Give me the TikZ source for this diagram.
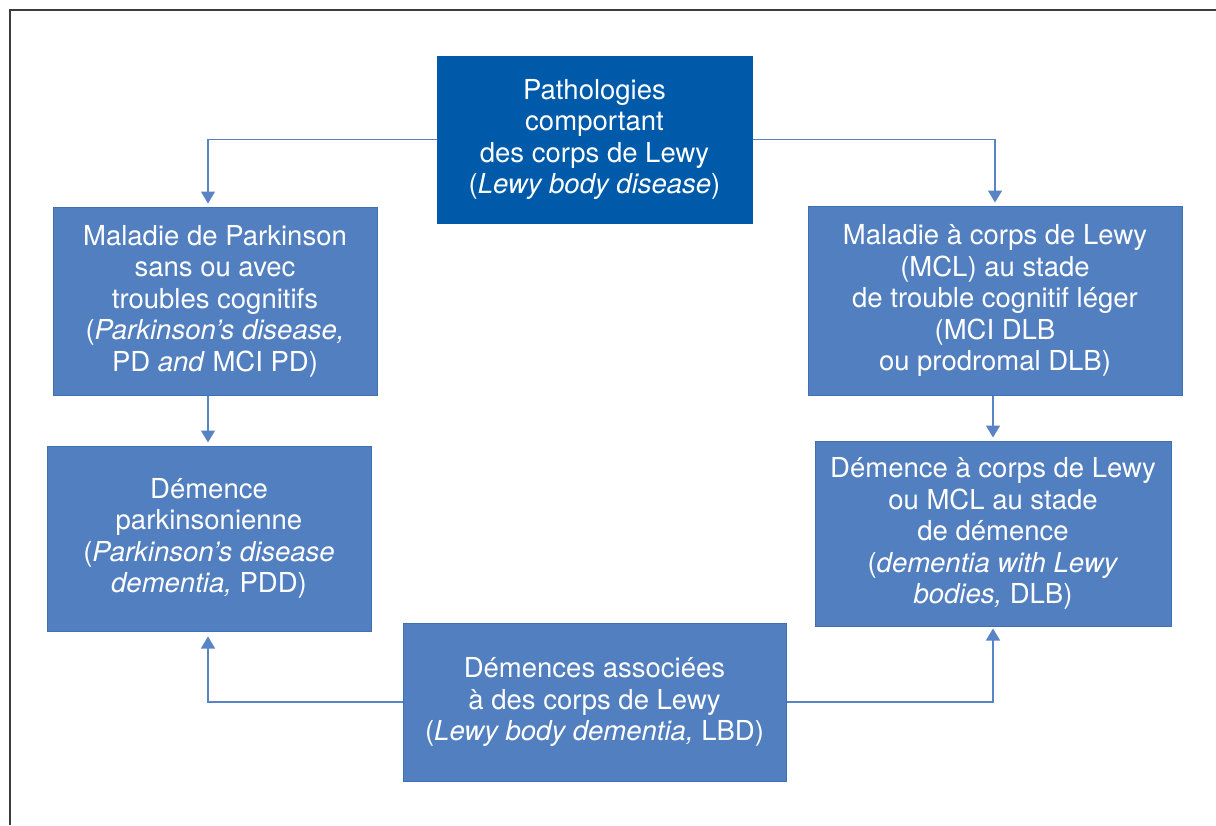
\documentclass[tikz,border=0pt]{standalone}
\usepackage{fontspec}
\setmainfont{TeX Gyre Heros}
\usetikzlibrary{arrows.meta}
\definecolor{darkbox}{RGB}{0,90,170}
\definecolor{lightbox}{RGB}{82,127,192}
\definecolor{boxedge}{RGB}{62,112,182}
\definecolor{linkcol}{RGB}{88,132,198}
\definecolor{framecol}{RGB}{60,60,60}
\begin{document}
\begin{tikzpicture}[x=1pt,y=-1pt,
  box/.style={rectangle, fill=lightbox, draw=boxedge, line width=1pt, text=white, align=center, inner sep=0pt, font=\fontsize{27.5}{31.5}\selectfont},
  topbox/.style={box, fill=darkbox, draw=darkbox},
  link/.style={draw=linkcol, line width=1.5pt, -{Triangle[width=14pt,length=12pt]}}]
\useasboundingbox (0,0) rectangle (1216,825);
\fill[white] (0,0) rectangle (1216,825);
\draw[framecol, line width=2pt] (10,825) -- (10,10) -- (1216,10);

\node[topbox, minimum width=315pt, minimum height=167pt] (T) at (594.5,139.5)
  {Pathologies\\comportant\\des corps de Lewy\\(\textit{Lewy body disease})};
\node[box, minimum width=324pt, minimum height=188pt] (L1) at (215,301)
  {Maladie de Parkinson\\sans ou avec\\troubles cognitifs\\(\textit{Parkinson’s disease,}\\PD \textit{and} MCI PD)};
\node[box, minimum width=374pt, minimum height=189pt] (R1) at (995,300.5)
  {Maladie à corps de Lewy\\(MCL) au stade\\de trouble cognitif léger\\(MCI DLB\\ou prodromal DLB)};
\node[box, minimum width=324pt, minimum height=185pt] (L2) at (209,538.5)
  {Démence\\parkinsonienne\\(\textit{Parkinson’s disease}\\\textit{dementia,} PDD)};
\node[box, minimum width=356pt, minimum height=185pt] (R2) at (993,533.5)
  {Démence à corps de Lewy\\ou MCL au stade\\de démence\\(\textit{dementia with Lewy}\\\textit{bodies,} DLB)};
\node[box, minimum width=383pt, minimum height=158pt] (B) at (594.5,702)
  {Démences associées\\à des corps de Lewy\\(\textit{Lewy body dementia,} LBD)};

\draw[link, shorten >=3pt] (T.west) -| ([xshift=-7pt]L1.north);
\draw[link, shorten >=3pt] (T.east) -| (R1.north);
\draw[link, shorten >=3pt] ([xshift=-7pt]L1.south) -- ([xshift=-1pt]L2.north);
\draw[link, shorten >=3pt] (R2.north |- R1.south) -- (R2.north);
\draw[link, shorten >=5pt] (B.west) -| ([xshift=-1pt]L2.south);
\draw[link, shorten >=2pt] (B.east) -| (R2.south);
\end{tikzpicture}
\end{document}
